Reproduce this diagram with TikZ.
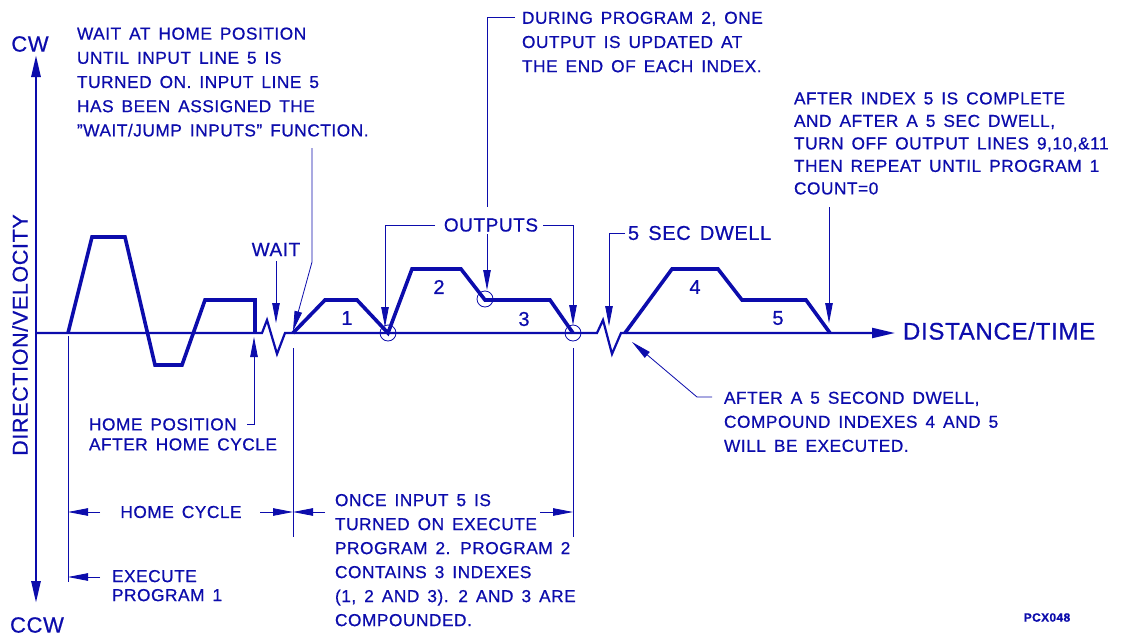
\documentclass[tikz,border=0pt]{standalone}
\usepackage{fontspec}
\setmainfont{Liberation Sans}[LetterSpace=3,WordSpace=1.5,FakeBold=0.6]
\usetikzlibrary{arrows.meta}
\definecolor{cad}{RGB}{12,12,172}
\begin{document}
\begin{tikzpicture}[x=1pt,y=-1pt,
  every node/.style={text=cad, inner sep=0pt, outer sep=0pt},
  cadnote/.style={anchor=north west, align=left, font=\fontsize{17.3}{24.2}\selectfont},
  cadlbl/.style={font=\fontsize{17.3}{20}\selectfont},
  cadldr/.style={draw=cad, line width=0.8pt},
  cadarr/.style={-{Triangle[length=20pt,width=7.5pt]}},
  cadprof/.style={draw=cad, line width=3.6pt, line join=miter, miter limit=4},
  cadaxis/.style={draw=cad, line width=2.2pt},
  caddigit/.style={font=\fontsize{20}{24}\selectfont},
  cadbig/.style={font=\fontsize{22}{26}\selectfont},
]
\fill[white] (0,0) rectangle (1129,637);
\useasboundingbox (0,0) rectangle (1129,637);

% ---------- axes ----------
\coordinate (ytop) at (36,55);
\coordinate (ybot) at (36,603);
\coordinate (orig) at (36,333);
\coordinate (xend) at (895,333);
\draw[draw=cad, line width=2.8pt, {Triangle[length=22pt,width=9pt]}-{Triangle[length=22pt,width=9pt]}] (ytop) -- (ybot);
\draw[cadaxis, -{Triangle[length=23pt,width=10pt]}] (orig) -- (262,333) -- (267,320) -- (277,354) -- (285,333)
   -- (597,333) -- (603,320) -- (612,354) -- (621,333) -- (xend);

\node[cadbig] (cw) at (30,44) {CW};
\node[cadbig] (ccw) at (37,625) {CCW};
\node[font=\fontsize{21.5}{26}\selectfont, rotate=90] (dirvel) at (20,335) {DIRECTION/VELOCITY};
\node[font=\fontsize{24}{28}\selectfont, anchor=west] (distime) at (903,331) {DISTANCE/TIME};

% ---------- profiles ----------
\draw[cadprof] (68,333) -- (92,237) -- (125,237) -- (155,365) -- (182,365) -- (205,300) -- (255,300) -- (255,333);
\draw[cadprof] (293,333) -- (325,300) -- (357,300) -- (388,333) -- (412,269) -- (461,269) -- (485,300) -- (550,300) -- (573,333);
\draw[cadprof] (625,333) -- (672,269) -- (718,269) -- (742,300) -- (806,300) -- (830,333);

\node[caddigit] (d1) at (347,318) {1};
\node[caddigit] (d2) at (439,287) {2};
\node[caddigit] (d3) at (524,319) {3};
\node[caddigit] (d4) at (695,287) {4};
\node[caddigit] (d5) at (778,318) {5};

\coordinate (o1) at (388,333);
\coordinate (o2) at (485,299);
\coordinate (o3) at (573,333);
\draw[cadldr] (o1) circle[radius=8pt];
\draw[cadldr] (o2) circle[radius=8pt];
\draw[cadldr] (o3) circle[radius=8pt];

% ---------- top-left note ----------
\node[cadnote] (noteA) at (77,27.5) {WAIT AT HOME POSITION\\UNTIL INPUT LINE 5 IS\\TURNED ON. INPUT LINE 5\\HAS BEEN ASSIGNED THE\\"WAIT/JUMP INPUTS" FUNCTION.};
\coordinate (a1) at (312,148);
\coordinate (a2) at (312,262);
\coordinate (a3) at (293,331);
\draw[cadldr, cadarr] (a1) -- (a2) -- (a3);

% WAIT
\node[font=\fontsize{19}{22}\selectfont] (wait) at (276,249.5) {WAIT};
\coordinate (wtip) at (276,323);
\draw[cadldr, cadarr] ([yshift=-5pt]wait.south) -- (wtip);

% HOME POSITION
\node[cadnote, font=\fontsize{17.3}{20}\selectfont] (noteD) at (89,418.3) {HOME POSITION\\AFTER HOME CYCLE};
\coordinate (h1) at (247,424);
\coordinate (h2) at (254,424);
\coordinate (h3) at (254,337);
\draw[cadldr, cadarr] (h1) -- (h2) -- (h3);

% extension lines
\coordinate (e1a) at (68,336);  \coordinate (e1b) at (68,582);
\coordinate (e2a) at (293,348); \coordinate (e2b) at (293,537);
\coordinate (e3a) at (573,348); \coordinate (e3b) at (573,537);
\draw[cadldr] (e1a) -- (e1b);
\draw[cadldr] (e2a) -- (e2b);
\draw[cadldr] (e3a) -- (e3b);

% HOME CYCLE dimension
\node[cadlbl] (hc) at (181,512) {HOME CYCLE};
\draw[cadldr, cadarr] (100,512) -- (e1a |- hc);
\draw[cadldr, cadarr] (260,512) -- (e2a |- hc);
\draw[cadldr, cadarr] (325,512) -- (e2a |- hc);
\draw[cadldr, cadarr] (540,512) -- (e3a |- hc);

% EXECUTE PROGRAM 1
\node[cadnote, font=\fontsize{17.3}{19}\selectfont] (noteE) at (112,570) {EXECUTE\\PROGRAM 1};
\draw[cadldr, cadarr] (100,577) -- (e1a |- 0,577);

% ONCE INPUT 5
\node[cadnote, font=\fontsize{17.3}{24}\selectfont] (noteF) at (335,494) {ONCE INPUT 5 IS\\TURNED ON EXECUTE\\PROGRAM 2. PROGRAM 2\\CONTAINS 3 INDEXES\\(1, 2 AND 3). 2 AND 3 ARE\\COMPOUNDED.};

% DURING PROGRAM 2
\node[cadnote] (noteB) at (522,11.7) {DURING PROGRAM 2, ONE\\OUTPUT IS UPDATED AT\\THE END OF EACH INDEX.};
\coordinate (b1) at (515,17);
\coordinate (b2) at (487,17);
\coordinate (b3) at (487,207);
\coordinate (b4) at (487,234);
\coordinate (b5) at (487,290);
\draw[cadldr] (b1) -- (b2) -- (b3);
\draw[cadldr, cadarr] (b4) -- (b5);

% OUTPUTS
\node[font=\fontsize{19}{22}\selectfont] (outputs) at (491,225) {OUTPUTS};
\coordinate (q1) at (435,225);
\coordinate (q2) at (385,225);
\coordinate (q3) at (385,327);
\draw[cadldr, cadarr] (q1) -- (q2) -- (q3);
\coordinate (r1) at (543,225);
\coordinate (r2) at (573,225);
\coordinate (r3) at (573,325);
\draw[cadldr, cadarr] (r1) -- (r2) -- (r3);

% 5 SEC DWELL
\node[font=\fontsize{20}{24}\selectfont, anchor=west] (dwell) at (628,233) {5 SEC DWELL};
\coordinate (s1) at (625,233);
\coordinate (s2) at (609,233);
\coordinate (s3) at (609,326);
\draw[cadldr, cadarr] (s1) -- (s2) -- (s3);

% AFTER A 5 SECOND DWELL
\node[cadnote, font=\fontsize{17.3}{24}\selectfont] (noteG) at (724,391.7) {AFTER A 5 SECOND DWELL,\\COMPOUND INDEXES 4 AND 5\\WILL BE EXECUTED.};
\coordinate (g1) at (712,397);
\coordinate (g2) at (697,397);
\coordinate (g3) at (632,342);
\draw[cadldr, cadarr] (g1) -- (g2) -- (g3);

% AFTER INDEX 5
\node[cadnote, font=\fontsize{17.3}{22.5}\selectfont] (noteC) at (794,92.3) {AFTER INDEX 5 IS COMPLETE\\AND AFTER A 5 SEC DWELL,\\TURN OFF OUTPUT LINES 9,10,\&11\\THEN REPEAT UNTIL PROGRAM 1\\COUNT=0};
\coordinate (c1) at (829,207);
\coordinate (c2) at (829,323);
\draw[cadldr, cadarr] (c1) -- (c2);

% drawing id
\node[font=\bfseries\fontsize{12}{14}\selectfont] (pcx) at (1047,617.5) {PCX048};
\end{tikzpicture}
\end{document}
